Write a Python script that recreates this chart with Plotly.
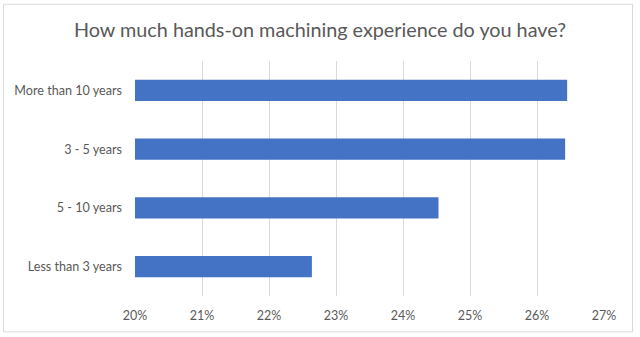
import plotly.graph_objects as go

# Survey answers, listed bottom to top as drawn on the category axis
categories = ["Less than 3 years", "5 - 10 years", "3 - 5 years", "More than 10 years"]
shares = [22.64, 24.53, 26.42, 26.45]  # percent of respondents
tick_vals = [20, 21, 22, 23, 24, 25, 26, 27]
tick_text = ["20%", "21%", "22%", "23%", "24%", "25%", "26%", "27%"]

W, H = 640, 337
L, R, T, B = 135, 36, 60.5, 40.5
pw, ph = W - L - R, H - T - B

fig = go.Figure(
    go.Bar(
        x=shares,
        y=categories,
        orientation="h",
        marker=dict(color="#4472C4", line=dict(width=0)),
        hoverinfo="x+y",
    )
)

font_family = "Lato, Open Sans, sans-serif"

fig.update_layout(
    width=W,
    height=H,
    margin=dict(l=L, r=R, t=T, b=B),
    paper_bgcolor="white",
    plot_bgcolor="white",
    bargap=0.64,
    showlegend=False,
    title=dict(
        text="How much hands-on machining experience do you have?",
        x=0.5,
        xanchor="center",
        y=1 - 30.5 / H,
        yanchor="middle",
        font=dict(family=font_family, size=19.8, color="#595959"),
    ),
    xaxis=dict(
        range=[20, 27],
        tickvals=tick_vals,
        ticktext=tick_text,
        showgrid=True,
        gridcolor="#D9D9D9",
        gridwidth=1.3,
        zeroline=False,
        showline=False,
        ticks="",
        ticklabelstandoff=10,
        tickfont=dict(family=font_family, size=12.5, color="#595959"),
        fixedrange=True,
    ),
    yaxis=dict(
        showgrid=False,
        zeroline=False,
        showline=False,
        ticks="",
        ticklabelstandoff=12,
        tickfont=dict(family=font_family, size=12.6, color="#595959"),
        fixedrange=True,
    ),
)

# Light frame around the whole chart area
fig.add_shape(
    type="rect",
    xref="paper",
    yref="paper",
    x0=(3.5 - L) / pw,
    x1=(632.5 - L) / pw,
    y0=(H - B - 332.5) / ph,
    y1=(H - B - 3.5) / ph,
    line=dict(color="#D9D9D9", width=1),
    fillcolor="rgba(0,0,0,0)",
    layer="below",
)

fig.write_html("out.html")
